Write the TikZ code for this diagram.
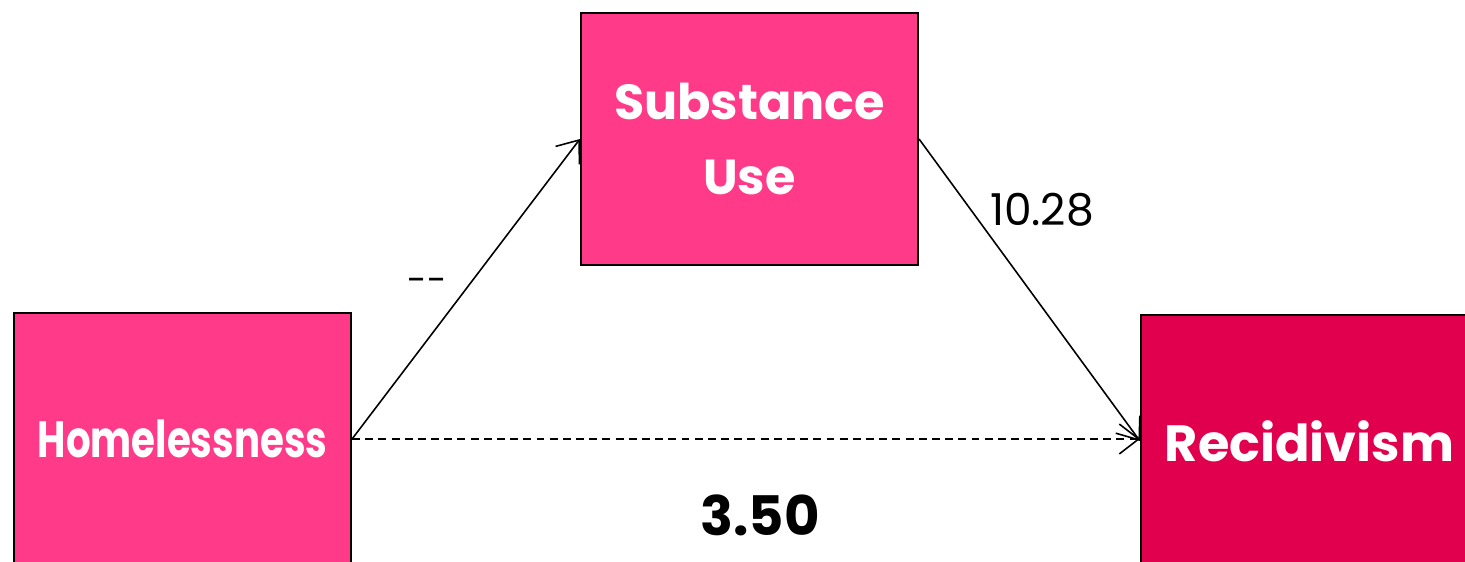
\documentclass[tikz,border=0pt]{standalone}
\usepackage{fontspec}
\setmainfont{Poppins}
\newfontfamily\narrowfont[FakeStretch=0.76]{Poppins}
\usetikzlibrary{arrows.meta}

\definecolor{boxpink}{HTML}{FF3A88}
\definecolor{boxred}{HTML}{E0004D}

\tikzset{
  varbox/.style={draw=black,line width=1.2pt,fill=boxpink,text=white,
    minimum width=6.74cm,minimum height=5.04cm,align=center,inner sep=0pt},
  path/.style={line width=0.9pt,-{Straight Barb[length=11pt,width=17pt]}}
}

\begin{document}
\begin{tikzpicture}[auto]
    \useasboundingbox (0,0) rectangle (29.3,-11.22);

    % the three variables
    \node[varbox,font=\fontsize{28}{43}\selectfont\bfseries] (S) at (14.99,-2.78)
      {Substance\\Use};
    \node[varbox,font=\fontsize{29}{36}\selectfont\narrowfont\bfseries] (H) at (3.65,-8.78)
      {Homelessness};
    \node[varbox,fill=boxred,font=\fontsize{29}{36}\selectfont\bfseries] (R) at (26.19,-8.82)
      {Recidivism};

    % paths
    \draw[path] (H.east) -- (S.west);
    \draw[path] (S.east) -- (R.west);
    \draw[path,dash pattern=on 4.5pt off 3pt] (H.east) -- (H.east -| R.west);

    % coefficients
    \node (a)  at (8.54,-5.70) {\fontsize{20}{24}\selectfont {-}{-}};
    \node (b)  at (20.84,-4.2) {\fontsize{25}{28}\selectfont 10.28};
    \node (c)  at (15.2,-10.3) {\fontsize{31}{36}\selectfont\bfseries 3.50};
\end{tikzpicture}
\end{document}
